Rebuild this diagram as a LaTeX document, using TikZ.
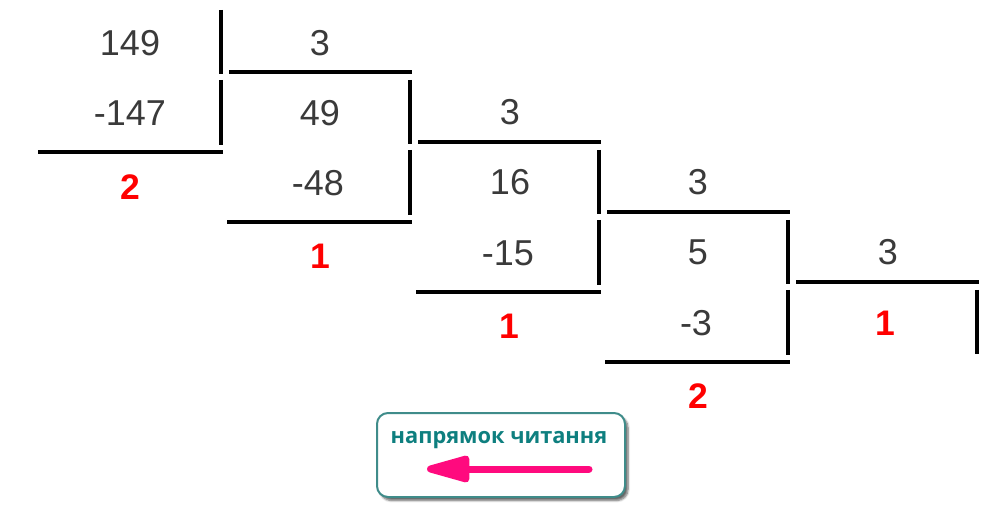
\documentclass[tikz,border=0pt]{standalone}
\usepackage{fontspec}
\setmainfont{Liberation Sans}
\newfontfamily\legendfont{Open Sans}
\usetikzlibrary{arrows.meta,shadows.blur}
\definecolor{numgray}{HTML}{3A3A3A}
\definecolor{redq}{HTML}{FF0000}
\definecolor{tealtext}{HTML}{0E7F7F}
\definecolor{tealborder}{HTML}{3F8C8A}
\definecolor{magentaarrow}{HTML}{FF0A7E}
\begin{document}
\begin{tikzpicture}[x=1pt,y=-1pt,
  num/.style={text=numgray,font=\fontsize{36}{40}\selectfont,inner sep=0pt,anchor=center},
  rem/.style={text=redq,font=\bfseries\fontsize{35.5}{40}\selectfont,inner sep=0pt,anchor=center},
  rule/.style={line width=4pt,line cap=butt,black},
  legendbox/.style={draw=tealborder,line width=2pt,rounded corners=11pt,fill=white,
     blur shadow={shadow xshift=3pt,shadow yshift=-3.5pt,shadow blur steps=6,shadow opacity=60}},
  legendtext/.style={text=tealtext,font=\legendfont\bfseries\fontsize{21.8}{24}\selectfont,inner sep=0pt},
  readarrow/.style={draw=magentaarrow,line width=7pt,line cap=round,
     -{Triangle[length=53pt,width=27pt,round=false]}}
]
\useasboundingbox (0,0) rectangle (996,529);
% lines per step
\foreach \i in {0,1,2,3}{
  \pgfmathsetmacro{\dx}{189*\i}
  \pgfmathsetmacro{\dy}{70*\i}
  \draw[rule] (221+\dx,10+\dy) -- (221+\dx,74+\dy);
  \draw[rule] (221+\dx,80+\dy) -- (221+\dx,145+\dy);
  \draw[rule] (229+\dx,72+\dy) -- (412+\dx,72+\dy);
  \draw[rule] (38+\dx,152+\dy) -- (223+\dx,152+\dy);
}
\draw[rule] (977,290) -- (977,354);
% numbers
\node[num] (d0) at (130,43) {149};
\node[num] (s0) at (130,113) {-147};
\node[rem] (r0) at (130,187) {2};
\node[num] (v0) at (320,43) {3};
\node[num] (d1) at (320,113) {49};
\node[num] (s1) at (318,183) {-48};
\node[rem] (r1) at (320,256) {1};
\node[num] (v1) at (510,112) {3};
\node[num] (d2) at (510,182) {16};
\node[num] (s2) at (508,253) {-15};
\node[rem] (r2) at (509,326) {1};
\node[num] (v2) at (698,182) {3};
\node[num] (d3) at (698,252) {5};
\node[num] (s3) at (696,323) {-3};
\node[rem] (r3) at (698,396) {2};
\node[num] (v3) at (888,252) {3};
\node[rem] (d4) at (885,323) {1};
% legend
\node[legendbox,minimum width=248pt,minimum height=84pt,inner sep=0pt] (legend) at (501,455) {};
\node[legendtext] (legendlabel) at (499,440) {напрямок читання};
\coordinate (arrtail) at (589,469);
\coordinate (arrtip) at (427,469);
\draw[readarrow] (arrtail) -- (arrtip);
\end{tikzpicture}
\end{document}
